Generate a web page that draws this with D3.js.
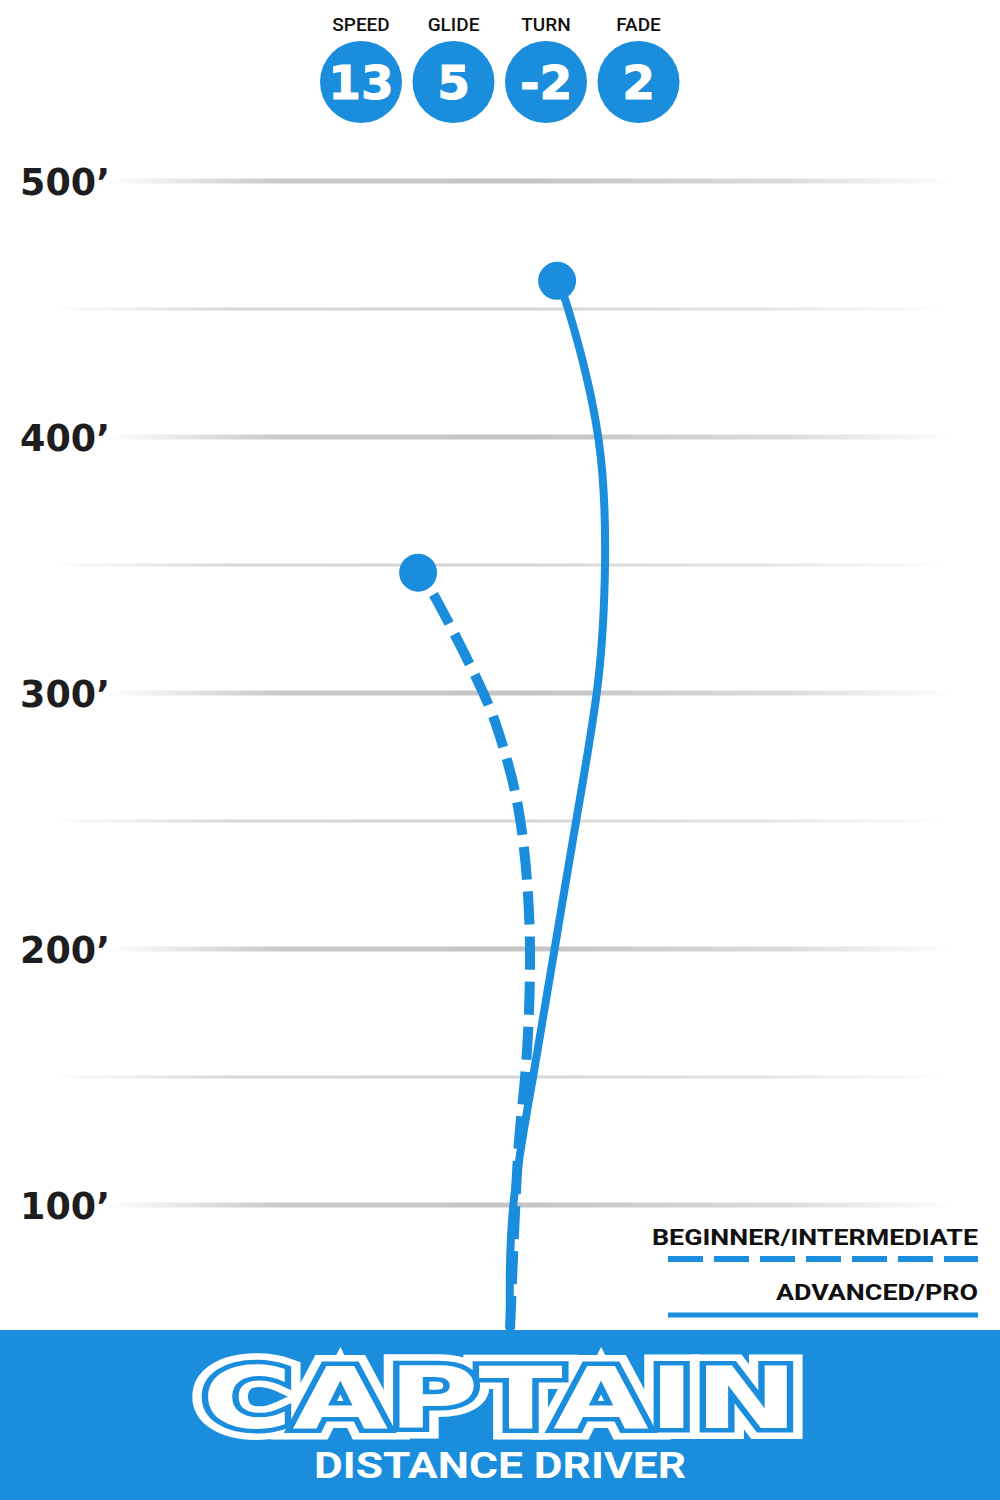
<!DOCTYPE html>
<html>
<head>
<meta charset="utf-8">
<script src="https://cdn.jsdelivr.net/npm/d3@7"></script>
<style>
  body { margin: 0; background: #fff; }
  svg { display: block; }
</style>
</head>
<body>
<div id="chart"></div>
<script>
// flight numbers
var statNames = ["SPEED", "GLIDE", "TURN", "FADE"];
var statValues = ["13", "5", "-2", "2"];

// distance ticks (feet)
var majorTicks = [500, 400, 300, 200, 100];
var minorTicks = [450, 350, 250, 150];

// flight paths: distance (ft) and lateral drift (ft, + = right)
var proDist    = [51, 99, 150, 201, 251, 301, 344, 399, 450, 461];
var proDrift   = [0, 1.2, 9.0, 17.6, 26.0, 34.0, 37.0, 34.6, 22.7, 18.4];
var begDist    = [51, 119, 150, 201, 251, 279, 301, 336, 347];
var begDrift   = [0, 3.1, 5.9, 7.8, 3.9, -2.7, -10.9, -28.5, -35.9];

var legendLabels = ["BEGINNER/INTERMEDIATE", "ADVANCED/PRO"];
var discName = "CAPTAIN";
var discType = "DISTANCE DRIVER";

var blue = "#1b8ddd";
var W = 1000, H = 1500;

var svg = d3.select("#chart").append("svg")
  .attr("width", W).attr("height", H);

var y = d3.scaleLinear().domain([100, 500]).range([1205, 181]);
var x = d3.scaleLinear().domain([-50, 50]).range([382, 638]);

var defs = svg.append("defs");
var grad = defs.append("linearGradient").attr("id", "gridGrad")
  .attr("x1", "0%").attr("x2", "100%");
grad.append("stop").attr("offset", "0%").attr("stop-color", "#c4c4c4").attr("stop-opacity", 0);
grad.append("stop").attr("offset", "20%").attr("stop-color", "#c4c4c4").attr("stop-opacity", 0.9);
grad.append("stop").attr("offset", "50%").attr("stop-color", "#c4c4c4").attr("stop-opacity", 1);
grad.append("stop").attr("offset", "80%").attr("stop-color", "#c4c4c4").attr("stop-opacity", 0.6);
grad.append("stop").attr("offset", "100%").attr("stop-color", "#c4c4c4").attr("stop-opacity", 0);

// grid lines
svg.append("g").selectAll("rect.minor")
  .data(minorTicks).enter().append("rect")
  .attr("class", "minor")
  .attr("x", 50).attr("width", 900)
  .attr("y", function(d) { return y(d) - 1.5; })
  .attr("height", 3)
  .attr("fill", "url(#gridGrad)")
  .attr("opacity", 0.75);

svg.append("g").selectAll("rect.major")
  .data(majorTicks).enter().append("rect")
  .attr("class", "major")
  .attr("x", 105).attr("width", 850)
  .attr("y", function(d) { return y(d) - 2.5; })
  .attr("height", 5)
  .attr("fill", "url(#gridGrad)");

// y labels
svg.append("g").selectAll("text")
  .data(majorTicks).enter().append("text")
  .attr("x", 20)
  .attr("y", function(d) { return y(d) + 14; })
  .attr("font-family", "'DejaVu Sans', sans-serif")
  .attr("font-weight", 700)
  .attr("font-size", 38)
  .attr("fill", "#1e1e1e")
  .attr("textLength", 90).attr("lengthAdjust", "spacingAndGlyphs")
  .text(function(d) { return d + "\u2019"; });

// flight numbers
var stats = svg.append("g").selectAll("g")
  .data(statNames).enter().append("g")
  .attr("transform", function(d, i) { return "translate(" + (361 + i * 92.5) + ",0)"; });

stats.append("text")
  .attr("y", 31)
  .attr("text-anchor", "middle")
  .attr("font-family", "Roboto, sans-serif")
  .attr("font-weight", 500)
  .attr("font-size", 19)
  .attr("fill", "#111")
  .text(function(d) { return d; });

stats.append("circle")
  .attr("cy", 82).attr("r", 41)
  .attr("fill", blue);

stats.append("text")
  .attr("y", 99)
  .attr("text-anchor", "middle")
  .attr("font-family", "'DejaVu Sans', sans-serif")
  .attr("font-weight", 700)
  .attr("font-size", 47)
  .attr("fill", "#fff")
  .attr("stroke", "#fff").attr("stroke-width", 1)
  .text(function(d, i) { return statValues[i]; });

// flight paths
var line = d3.line()
  .x(function(d) { return x(d[1]); })
  .y(function(d) { return y(d[0]); })
  .curve(d3.curveNatural);

var proPts = d3.zip(proDist, proDrift);
var begPts = d3.zip(begDist, begDrift);

var begPath = svg.append("path")
  .datum(begPts)
  .attr("d", line)
  .attr("fill", "none")
  .attr("stroke", blue)
  .attr("stroke-width", 10)
  .attr("stroke-dasharray", "33,12");

// make the dash pattern end with a gap just before the dot
var begLen = begPath.node().getTotalLength();
begPath.attr("stroke-dashoffset", -(begLen % 45) + 45 - 30);

svg.append("path")
  .datum(proPts)
  .attr("d", line)
  .attr("fill", "none")
  .attr("stroke", blue)
  .attr("stroke-width", 8);

svg.append("circle")
  .attr("cx", x(begDrift[begDrift.length - 1]))
  .attr("cy", y(begDist[begDist.length - 1]))
  .attr("r", 19).attr("fill", blue);

svg.append("circle")
  .attr("cx", x(proDrift[proDrift.length - 1]))
  .attr("cy", y(proDist[proDist.length - 1]))
  .attr("r", 19).attr("fill", blue);

// legend
var legend = svg.append("g");
legend.append("text")
  .attr("x", 978).attr("y", 1245)
  .attr("text-anchor", "end")
  .attr("font-family", "Roboto, sans-serif")
  .attr("font-weight", 700)
  .attr("font-size", 22)
  .attr("fill", "#111")
  .attr("textLength", 326).attr("lengthAdjust", "spacingAndGlyphs")
  .text(legendLabels[0]);
legend.append("line")
  .attr("x1", 668).attr("x2", 978)
  .attr("y1", 1259).attr("y2", 1259)
  .attr("stroke", blue).attr("stroke-width", 6)
  .attr("stroke-dasharray", "35,11");
legend.append("text")
  .attr("x", 978).attr("y", 1300)
  .attr("text-anchor", "end")
  .attr("font-family", "Roboto, sans-serif")
  .attr("font-weight", 700)
  .attr("font-size", 22)
  .attr("fill", "#111")
  .attr("textLength", 202).attr("lengthAdjust", "spacingAndGlyphs")
  .text(legendLabels[1]);
legend.append("line")
  .attr("x1", 668).attr("x2", 978)
  .attr("y1", 1315).attr("y2", 1315)
  .attr("stroke", blue).attr("stroke-width", 5);

// bottom banner
svg.append("rect")
  .attr("x", 0).attr("y", 1330)
  .attr("width", W).attr("height", 170)
  .attr("fill", blue);

var title = svg.append("g").attr("transform", "translate(500,1428)");
[[22, "#fff"], [9, blue], [0, "none"]].forEach(function(s) {
  title.append("text")
    .attr("text-anchor", "middle")
    .attr("textLength", 596).attr("lengthAdjust", "spacingAndGlyphs")
    .attr("font-family", "'DejaVu Sans', sans-serif")
    .attr("font-weight", 700)
    .attr("font-size", 86)
    .attr("fill", "#fff")
    .attr("stroke", s[1])
    .attr("stroke-width", s[0])
    .attr("stroke-linejoin", "miter")
    .text(discName);
});

svg.append("text")
  .attr("x", 500).attr("y", 1478)
  .attr("text-anchor", "middle")
  .attr("textLength", 372).attr("lengthAdjust", "spacingAndGlyphs")
  .attr("font-family", "Roboto, sans-serif")
  .attr("font-weight", 700)
  .attr("font-size", 36)
  .attr("fill", "#fff")
  .text(discType);
</script>
</body>
</html>
